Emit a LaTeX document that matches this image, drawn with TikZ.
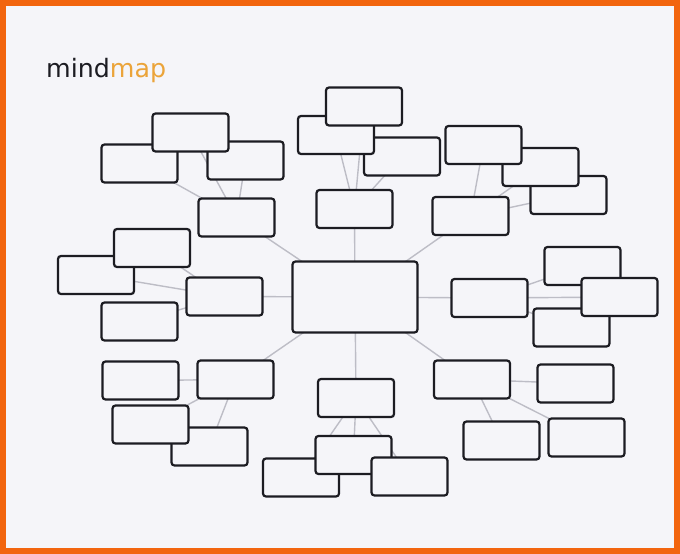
\documentclass[tikz,border=0pt]{standalone}
\usepackage{fontspec}
\setmainfont{DejaVu Sans}
\usepackage{xcolor}
\definecolor{frameorange}{HTML}{F2650F}
\definecolor{mapcol}{HTML}{EBA43A}
\definecolor{paper}{HTML}{F5F5F9}
\definecolor{boxline}{HTML}{1C1C22}
\definecolor{linkgray}{HTML}{BDBDC6}
\pgfdeclarelayer{bg}
\pgfdeclarelayer{links}
\pgfsetlayers{bg,links,main}

\begin{document}
\begin{tikzpicture}[x=1pt,y=-1pt,
  leaf/.style={draw=boxline,fill=paper,line width=2.2pt,rounded corners=3pt,
    minimum width=76pt,minimum height=38pt,inner sep=0pt},
  root/.style={leaf,minimum width=125pt,minimum height=71pt},
  link/.style={draw=linkgray,line width=1.4pt}]
 \useasboundingbox (0,0) rectangle (680,554);
 \begin{pgfonlayer}{bg}
  \draw[fill=paper,draw=frameorange,line width=6pt] (3,3) rectangle (677,551);
 \end{pgfonlayer}
 \node[anchor=base west,inner sep=0pt] (title) at (46,77)
   {\fontsize{25.3}{30}\selectfont\textcolor{boxline}{mind}\textcolor{mapcol}{map}};

 \node[root] (core) at (355,297) {};
% top left
 \node[leaf] (tl) at (236.5,217.5) {};
 \node[leaf] (tla) at (139.5,163.5) {};
 \node[leaf] (tlb) at (245.5,160.5) {};
 \node[leaf] (tlc) at (190.5,132.5) {};
% top middle
 \node[leaf] (tm) at (354.5,209) {};
 \node[leaf] (tmc) at (402,156.5) {};
 \node[leaf] (tma) at (336,135) {};
 \node[leaf] (tmb) at (364,106.5) {};
% top right
 \node[leaf] (tr) at (470.5,216) {};
 \node[leaf] (trf) at (568.5,195) {};
 \node[leaf] (tre) at (540.5,167) {};
 \node[leaf] (trd) at (483.5,145) {};
% right
 \node[leaf] (rt) at (489.5,298) {};
 \node[leaf] (rtg) at (582.5,266) {};
 \node[leaf] (rti) at (571.5,327.5) {};
 \node[leaf] (rth) at (619.5,297) {};
% bottom right
 \node[leaf] (br) at (472,379.5) {};
 \node[leaf] (brj) at (575.5,383.5) {};
 \node[leaf] (brk) at (586.5,437.5) {};
 \node[leaf] (brl) at (501.5,440.5) {};
% bottom middle
 \node[leaf] (bm) at (356,398) {};
 \node[leaf] (bmn) at (301,477.5) {};
 \node[leaf] (bmm) at (353.5,455) {};
 \node[leaf] (bmo) at (409.5,476.5) {};
% bottom left
 \node[leaf] (bl) at (235.5,379.5) {};
 \node[leaf] (blp) at (140.5,380.5) {};
 \node[leaf] (blr) at (209.5,446.5) {};
 \node[leaf] (blq) at (150.5,424.5) {};
% left
 \node[leaf] (lf) at (224.5,296.5) {};
 \node[leaf] (lft) at (96,275) {};
 \node[leaf] (lfs) at (152,248) {};
 \node[leaf] (lfu) at (139.5,321.5) {};

 \begin{pgfonlayer}{links}
  \draw[link] (core.center) -- (tl.center);
  \draw[link] (core.center) -- (tm.center);
  \draw[link] (core.center) -- (tr.center);
  \draw[link] (core.center) -- (rt.center);
  \draw[link] (core.center) -- (br.center);
  \draw[link] (core.center) -- (bm.center);
  \draw[link] (core.center) -- (bl.center);
  \draw[link] (core.center) -- (lf.center);
  \draw[link] (tl.center) -- (tla.center);
  \draw[link] (tl.center) -- (tlb.center);
  \draw[link] (tl.center) -- (tlc.center);
  \draw[link] (tm.center) -- (tma.center);
  \draw[link] (tm.center) -- (tmb.center);
  \draw[link] (tm.center) -- (tmc.center);
  \draw[link] (tr.center) -- (trd.center);
  \draw[link] (tr.center) -- (tre.center);
  \draw[link] (tr.center) -- (trf.center);
  \draw[link] (rt.center) -- (rtg.center);
  \draw[link] (rt.center) -- (rth.center);
  \draw[link] (rt.center) -- (rti.center);
  \draw[link] (br.center) -- (brj.center);
  \draw[link] (br.center) -- (brk.center);
  \draw[link] (br.center) -- (brl.center);
  \draw[link] (bm.center) -- (bmn.center);
  \draw[link] (bm.center) -- (bmm.center);
  \draw[link] (bm.center) -- (bmo.center);
  \draw[link] (bl.center) -- (blp.center);
  \draw[link] (bl.center) -- (blq.center);
  \draw[link] (bl.center) -- (blr.center);
  \draw[link] (lf.center) -- (lft.center);
  \draw[link] (lf.center) -- (lfs.center);
  \draw[link] (lf.center) -- (lfu.center);
 \end{pgfonlayer}
\end{tikzpicture}
\end{document}
